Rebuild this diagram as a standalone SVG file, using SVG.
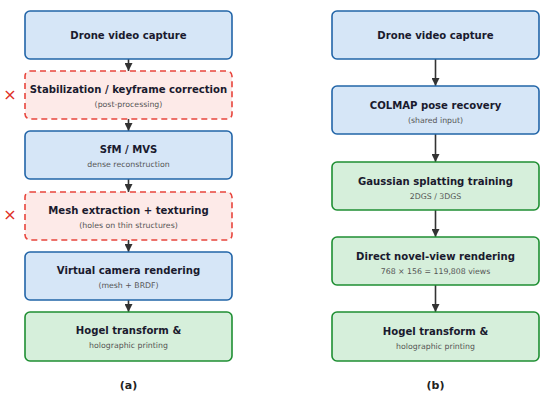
<svg xmlns="http://www.w3.org/2000/svg" width="550" height="399" viewBox="0 0 550 399">
<defs>
<marker id="ah" viewBox="0 0 10 10" refX="10" refY="5" markerWidth="8" markerHeight="8" markerUnits="userSpaceOnUse" orient="auto">
<path d="M0,0 L10,5 L0,10 z" fill="#333333"/>
</marker>
<style>
.blue{fill:#d6e6f7;stroke:#2265a8;stroke-width:1.6}
.red{fill:#fdeae8;stroke:#e8453c;stroke-width:1.6;stroke-dasharray:6,4}
.green{fill:#d6efdb;stroke:#1f8f33;stroke-width:1.6}
.t{font-family:"DejaVu Sans",sans-serif;font-weight:bold;font-size:10.1px;fill:#1a1a2e;text-anchor:middle}
.s{font-family:"DejaVu Sans",sans-serif;font-size:7.8px;fill:#555555;text-anchor:middle}
.lab{font-family:"DejaVu Sans",sans-serif;font-weight:bold;font-size:11px;fill:#222222;text-anchor:middle}
.x{font-family:"DejaVu Sans",sans-serif;font-size:16px;fill:#e0302a;text-anchor:middle}
.c{stroke:#333333;stroke-width:1.6;fill:none}
</style>
</defs>
<rect width="550" height="399" fill="#ffffff"/>
<g id="connectors">
<line class="c" x1="128.5" y1="59" x2="128.5" y2="71" marker-end="url(#ah)"/>
<line class="c" x1="128.5" y1="119" x2="128.5" y2="131" marker-end="url(#ah)"/>
<line class="c" x1="128.5" y1="179" x2="128.5" y2="192" marker-end="url(#ah)"/>
<line class="c" x1="128.5" y1="240" x2="128.5" y2="252" marker-end="url(#ah)"/>
<line class="c" x1="128.5" y1="300" x2="128.5" y2="312" marker-end="url(#ah)"/>
<line class="c" x1="435.5" y1="59" x2="435.5" y2="86" marker-end="url(#ah)"/>
<line class="c" x1="435.5" y1="134" x2="435.5" y2="162" marker-end="url(#ah)"/>
<line class="c" x1="435.5" y1="210" x2="435.5" y2="237" marker-end="url(#ah)"/>
<line class="c" x1="435.5" y1="285" x2="435.5" y2="312" marker-end="url(#ah)"/>
</g>
<g id="a1"><rect class="blue" x="25" y="11" width="207" height="48" rx="5"/><text class="t" x="128.5" y="38.5">Drone video capture</text></g>
<g id="a2"><rect class="red" x="25" y="71" width="207" height="48" rx="5"/><text class="t" x="128.5" y="93">Stabilization / keyframe correction</text><text class="s" x="128.5" y="107">(post-processing)</text></g>
<g id="a3"><rect class="blue" x="25" y="131" width="207" height="48" rx="5"/><text class="t" x="128.5" y="153">SfM / MVS</text><text class="s" x="128.5" y="167">dense reconstruction</text></g>
<g id="a4"><rect class="red" x="25" y="192" width="207" height="48" rx="5"/><text class="t" x="128.5" y="214">Mesh extraction + texturing</text><text class="s" x="128.5" y="228">(holes on thin structures)</text></g>
<g id="a5"><rect class="blue" x="25" y="252" width="207" height="48" rx="5"/><text class="t" x="128.5" y="274">Virtual camera rendering</text><text class="s" x="128.5" y="288">(mesh + BRDF)</text></g>
<g id="a6"><rect class="green" x="25" y="312" width="207" height="49" rx="5"/><text class="t" x="128.5" y="334">Hogel transform &amp;</text><text class="s" x="128.5" y="348">holographic printing</text></g>
<g id="xmarks"><text class="x" x="10" y="100">×</text><text class="x" x="10" y="220">×</text></g>
<g id="b1"><rect class="blue" x="332" y="11" width="207" height="48" rx="5"/><text class="t" x="435.5" y="38.5">Drone video capture</text></g>
<g id="b2"><rect class="blue" x="332" y="86" width="207" height="48" rx="5"/><text class="t" x="435.5" y="108.5">COLMAP pose recovery</text><text class="s" x="435.5" y="122.5">(shared input)</text></g>
<g id="b3"><rect class="green" x="332" y="162" width="207" height="48" rx="5"/><text class="t" x="435.5" y="184.5">Gaussian splatting training</text><text class="s" x="435.5" y="198.5">2DGS / 3DGS</text></g>
<g id="b4"><rect class="green" x="332" y="237" width="207" height="48" rx="5"/><text class="t" x="435.5" y="259.5">Direct novel-view rendering</text><text class="s" x="435.5" y="273.5">768 × 156 = 119,808 views</text></g>
<g id="b5"><rect class="green" x="332" y="312" width="207" height="49" rx="5"/><text class="t" x="435.5" y="334.5">Hogel transform &amp;</text><text class="s" x="435.5" y="348.5">holographic printing</text></g>
<text class="lab" x="128.5" y="389">(a)</text>
<text class="lab" x="435.5" y="389">(b)</text>
</svg>
